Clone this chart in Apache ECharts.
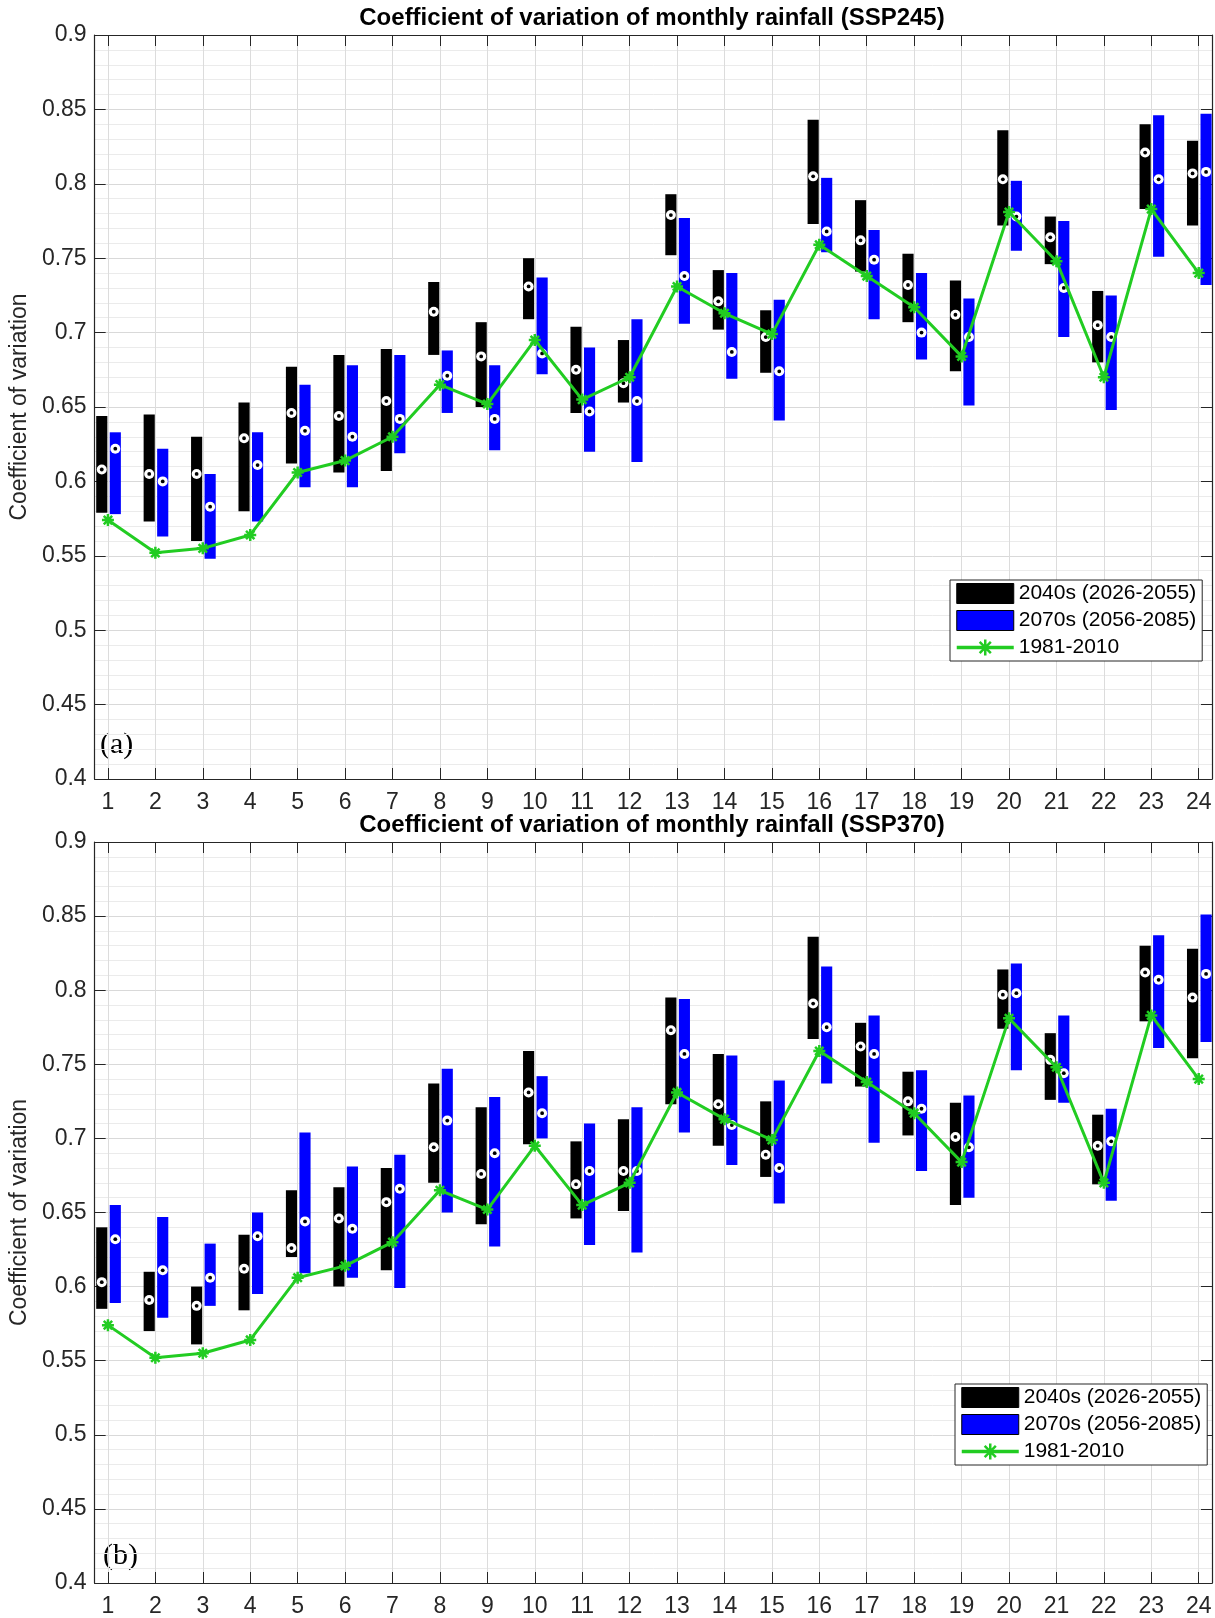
<!DOCTYPE html>
<html><head><meta charset="utf-8">
<script src="https://cdn.jsdelivr.net/npm/echarts@6/dist/echarts.min.js"></script>
<style>html,body{margin:0;padding:0;background:#fff}#c{width:1215px;height:1618px}</style>
</head><body><div id="c"></div>
<script>
// ---- data ----
const months = [1,2,3,4,5,6,7,8,9,10,11,12,13,14,15,16,17,18,19,20,21,22,23,24];
const baseline1981 = [0.574,0.552,0.555,0.564,0.606,0.614,0.630,0.665,0.652,0.695,0.655,0.670,0.731,0.713,0.699,0.759,0.738,0.717,0.684,0.781,0.748,0.670,0.783,0.740];

// SSP245
const s245_2040_low  = [0.579,0.573,0.560,0.580,0.612,0.606,0.607,0.685,0.650,0.709,0.646,0.653,0.752,0.702,0.673,0.773,0.741,0.707,0.674,0.772,0.746,0.680,0.783,0.772];
const s245_2040_high = [0.644,0.645,0.630,0.653,0.677,0.685,0.689,0.734,0.707,0.750,0.704,0.695,0.793,0.742,0.715,0.843,0.789,0.753,0.735,0.836,0.778,0.728,0.840,0.829];
const s245_2040_med  = [0.608,0.605,0.605,0.629,0.646,0.644,0.654,0.714,0.684,0.731,0.675,0.666,0.779,0.721,0.697,0.805,0.762,0.732,0.712,0.803,0.764,0.705,0.821,0.807];
const s245_2070_low  = [0.578,0.563,0.548,0.573,0.596,0.596,0.619,0.646,0.621,0.672,0.620,0.613,0.706,0.669,0.641,0.754,0.709,0.682,0.651,0.755,0.697,0.648,0.751,0.732];
const s245_2070_high = [0.633,0.622,0.605,0.633,0.665,0.678,0.685,0.688,0.678,0.737,0.690,0.709,0.777,0.740,0.722,0.804,0.769,0.740,0.723,0.802,0.775,0.725,0.846,0.847];
const s245_2070_med  = [0.622,0.600,0.583,0.611,0.634,0.630,0.642,0.671,0.642,0.686,0.647,0.654,0.738,0.687,0.674,0.768,0.749,0.700,0.697,0.778,0.730,0.697,0.803,0.808];

// SSP370
const s370_2040_low  = [0.585,0.570,0.561,0.584,0.620,0.600,0.611,0.670,0.642,0.696,0.646,0.651,0.723,0.695,0.674,0.767,0.735,0.702,0.655,0.774,0.726,0.669,0.779,0.754];
const s370_2040_high = [0.640,0.610,0.600,0.635,0.665,0.667,0.680,0.737,0.721,0.759,0.698,0.713,0.795,0.757,0.725,0.836,0.778,0.745,0.724,0.814,0.771,0.716,0.830,0.828];
const s370_2040_med  = [0.603,0.591,0.587,0.612,0.626,0.646,0.657,0.694,0.676,0.731,0.669,0.678,0.773,0.723,0.689,0.791,0.762,0.725,0.701,0.797,0.753,0.695,0.812,0.795];
const s370_2070_low  = [0.589,0.579,0.587,0.595,0.609,0.606,0.599,0.650,0.627,0.700,0.628,0.623,0.704,0.682,0.656,0.737,0.697,0.678,0.660,0.746,0.724,0.658,0.761,0.765];
const s370_2070_high = [0.655,0.647,0.629,0.650,0.704,0.681,0.689,0.747,0.728,0.742,0.710,0.721,0.794,0.756,0.739,0.816,0.783,0.746,0.729,0.818,0.783,0.720,0.837,0.851];
const s370_2070_med  = [0.632,0.611,0.606,0.634,0.644,0.639,0.666,0.712,0.690,0.717,0.678,0.678,0.757,0.709,0.680,0.775,0.757,0.720,0.694,0.798,0.744,0.698,0.807,0.811];

const titles = ['Coefficient of variation of monthly rainfall (SSP245)', 'Coefficient of variation of monthly rainfall (SSP370)'];
const panelLabels = ['(a)', '(b)'];
const legendNames = ['2040s (2026-2055)', '2070s (2056-2085)', '1981-2010'];
const yAxisTitle = 'Coefficient of variation';

// ---- styling ----
const FONT = "'Liberation Sans', Arial, Helvetica, sans-serif";
const AXIS_COLOR = '#262626';
const GREEN = '#22cc22';
const BLUE = '#0000ff';
const X_MIN = 0.72, X_MAX = 24.28;
const BAR_W = 0.235, OFF_A = -0.13, OFF_B = 0.155;
const ASTERISK = 'path://M5,0L5,10M0,5L10,5M1.5,1.5L8.5,8.5M1.5,8.5L8.5,1.5';
const GRID_POS = [{top: 35, height: 744}, {top: 842, height: 743}];

function barSeries(name, lows, highs, offset, color, gi) {
  return {
    type: 'custom', name: name, xAxisIndex: gi * 2, yAxisIndex: gi * 2, z: 3,
    itemStyle: {color: color},
    data: months.map((m, i) => [m, lows[i], highs[i]]),
    encode: {x: 0, y: [1, 2]},
    renderItem: function (params, api) {
      const x = api.value(0) + offset;
      const p1 = api.coord([x, api.value(1)]);
      const p2 = api.coord([x, api.value(2)]);
      const w = api.size([BAR_W, 0])[0];
      return {type: 'rect', shape: {x: p1[0] - w / 2, y: p2[1], width: w, height: p1[1] - p2[1]}, style: {fill: color}};
    },
    silent: true
  };
}
function medSeries(name, meds, offset, gi) {
  return {
    type: 'custom', name: name, xAxisIndex: gi * 2, yAxisIndex: gi * 2, z: 4,
    data: months.map((m, i) => [m, meds[i]]),
    encode: {x: 0, y: 1},
    renderItem: function (params, api) {
      const p = api.coord([api.value(0) + offset, api.value(1)]);
      return {type: 'group', children: [
        {type: 'circle', shape: {cx: p[0], cy: p[1], r: 5}, style: {fill: '#fff'}},
        {type: 'circle', shape: {cx: p[0], cy: p[1], r: 1.9}, style: {fill: '#000'}}
      ]};
    },
    silent: true
  };
}
function lineSeries(gi) {
  return {
    type: 'line', name: legendNames[2], xAxisIndex: gi * 2, yAxisIndex: gi * 2, z: 6,
    data: months.map((m, i) => [m, baseline1981[i]]),
    symbol: ASTERISK, symbolSize: 12, showSymbol: true,
    lineStyle: {color: GREEN, width: 3},
    itemStyle: {color: GREEN, borderColor: GREEN, borderWidth: 2.5}
  };
}

const xAxes = [], yAxes = [], grids = [], legends = [], graphics = [];
GRID_POS.forEach((g, gi) => {
  grids.push({left: 93, width: 1119, top: g.top, height: g.height});
  xAxes.push({
    type: 'value', gridIndex: gi, min: X_MIN, max: X_MAX, position: 'bottom',
    axisLine: {show: true, onZero: false, lineStyle: {color: AXIS_COLOR, width: 1.2}},
    axisTick: {show: true, inside: true, length: 11, customValues: months, lineStyle: {color: AXIS_COLOR}},
    axisLabel: {show: true, customValues: months, margin: 12, fontSize: 23, color: AXIS_COLOR, fontFamily: FONT},
    splitLine: {show: true, lineStyle: {color: '#dcdcdc', width: 1}}
  });
  xAxes.push({
    type: 'value', gridIndex: gi, min: X_MIN, max: X_MAX, position: 'top',
    axisLine: {show: true, onZero: false, lineStyle: {color: AXIS_COLOR, width: 1.2}},
    axisTick: {show: true, inside: true, length: 11, customValues: months, lineStyle: {color: AXIS_COLOR}},
    axisLabel: {show: false},
    splitLine: {show: false}
  });
  yAxes.push({
    type: 'value', gridIndex: gi, min: 0.4, max: 0.9, interval: 0.05, position: 'left',
    axisLine: {show: true, onZero: false, lineStyle: {color: AXIS_COLOR, width: 1.2}},
    axisTick: {show: true, inside: true, length: 11, lineStyle: {color: AXIS_COLOR}},
    axisLabel: {show: true, margin: 8, fontSize: 23, color: AXIS_COLOR, fontFamily: FONT},
    splitLine: {show: true, lineStyle: {color: '#d9d9d9', width: 1}},
    minorTick: {show: false, splitNumber: 5},
    minorSplitLine: {show: true, lineStyle: {color: '#ebebeb', width: 1}},
    name: yAxisTitle, nameLocation: 'middle', nameGap: 57,
    nameTextStyle: {fontSize: 23, color: AXIS_COLOR, fontFamily: FONT}
  });
  yAxes.push({
    type: 'value', gridIndex: gi, min: 0.4, max: 0.9, interval: 0.05, position: 'right',
    axisLine: {show: true, onZero: false, lineStyle: {color: AXIS_COLOR, width: 1.2}},
    axisTick: {show: true, inside: true, length: 11, lineStyle: {color: AXIS_COLOR}},
    axisLabel: {show: false},
    splitLine: {show: false}
  });
  legends.push({
    orient: 'vertical', left: gi === 0 ? 950 : 955, top: gi === 0 ? 580 : 1384,
    padding: [3, 6, 3, 5], itemGap: 6, itemWidth: 57, itemHeight: 20,
    backgroundColor: '#fff', borderColor: AXIS_COLOR, borderWidth: 1,
    textStyle: {fontSize: 21, color: '#000', fontFamily: FONT},
    selectedMode: false,
    data: [
      {name: legendNames[0], icon: 'rect', itemStyle: {color: '#000', borderColor: '#000', borderWidth: 1}},
      {name: legendNames[1], icon: 'rect', itemStyle: {color: BLUE, borderColor: '#000', borderWidth: 1}},
      {name: legendNames[2], lineStyle: {color: GREEN, width: 3.5}, itemStyle: {color: GREEN, borderColor: GREEN, borderWidth: 2.5}}
    ]
  });
  graphics.push({
    type: 'text', x: 652, y: gi === 0 ? 18 : 825,
    style: {text: titles[gi], textAlign: 'center', textVerticalAlign: 'middle', font: 'bold 24px ' + FONT, fill: '#000'}
  });
  graphics.push({
    type: 'text', x: gi === 0 ? 100 : 103, y: gi === 0 ? 745 : 1556,
    style: {text: panelLabels[gi], textAlign: 'left', textVerticalAlign: 'middle', font: "30px 'Liberation Serif', 'Times New Roman', serif", fill: '#000'}
  });
});

const series = [
  barSeries(legendNames[0], s245_2040_low, s245_2040_high, OFF_A, '#000', 0),
  barSeries(legendNames[1], s245_2070_low, s245_2070_high, OFF_B, BLUE, 0),
  medSeries('med245a', s245_2040_med, OFF_A, 0),
  medSeries('med245b', s245_2070_med, OFF_B, 0),
  lineSeries(0),
  barSeries(legendNames[0], s370_2040_low, s370_2040_high, OFF_A, '#000', 1),
  barSeries(legendNames[1], s370_2070_low, s370_2070_high, OFF_B, BLUE, 1),
  medSeries('med370a', s370_2040_med, OFF_A, 1),
  medSeries('med370b', s370_2070_med, OFF_B, 1),
  lineSeries(1)
];

const chart = echarts.init(document.getElementById('c'), null, {renderer: 'canvas'});
chart.setOption({
  backgroundColor: '#fff',
  animation: false,
  textStyle: {fontFamily: FONT},
  grid: grids, xAxis: xAxes, yAxis: yAxes, legend: legends,
  graphic: graphics,
  series: series
});
</script></body></html>
